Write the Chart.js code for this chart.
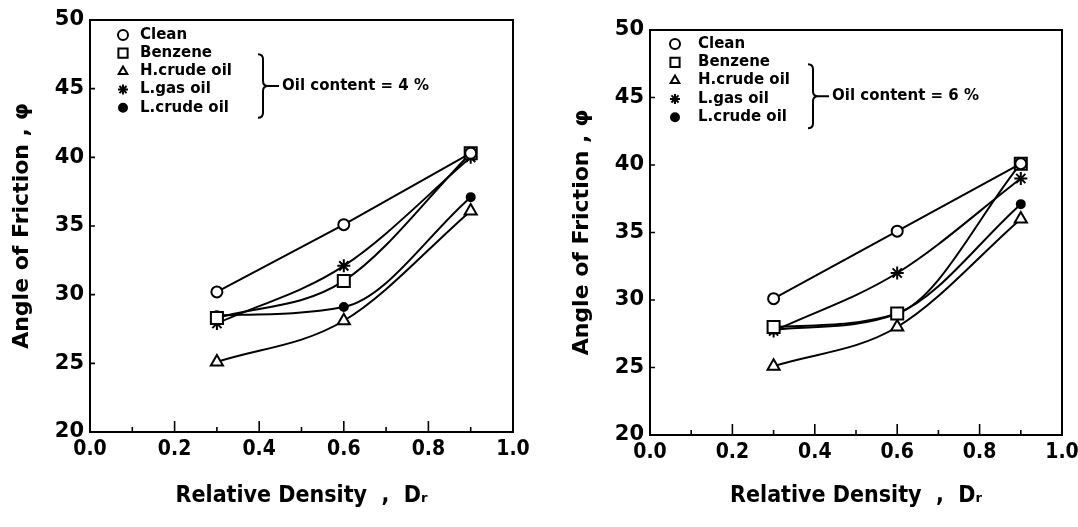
<!DOCTYPE html>
<html>
<head>
<meta charset="utf-8">
<script src="https://cdn.jsdelivr.net/npm/chart.js@4.4.1/dist/chart.umd.min.js"></script>
<style>
    html, body { margin: 0; padding: 0; background: #fff; }
    body { width: 1078px; height: 527px; position: relative; overflow: hidden; }
    canvas { position: absolute; top: 0; }
    #chart4 { left: 0; }
    #chart6 { left: 560px; }
</style>
</head>
<body>
<canvas id="chart4" width="539" height="527"></canvas>
<canvas id="chart6" width="518" height="527"></canvas>
<script>
// relative density values where the shear tests were run
const densities = [0.3, 0.6, 0.9];

const seriesNames = ['Clean', 'Benzene', 'H.crude oil', 'L.gas oil', 'L.crude oil'];

// angle of friction (deg), oil content = 4 %
const clean4 = [30.2, 35.1, 40.3];
const benzene4 = [28.3, 31.0, 40.3];
const hCrude4 = [25.1, 28.1, 36.1];
const lGas4 = [27.9, 32.1, 40.0];
const lCrude4 = [28.5, 29.1, 37.1];

// angle of friction (deg), oil content = 6 %
const clean6 = [30.1, 35.1, 40.1];
const benzene6 = [28.0, 29.0, 40.1];
const hCrude6 = [25.1, 28.0, 36.0];
const lGas6 = [27.7, 32.0, 39.0];
const lCrude6 = [27.8, 29.0, 37.1];

const xTicks = [0.0, 0.2, 0.4, 0.6, 0.8, 1.0];
const yTicks = [20, 25, 30, 35, 40, 45, 50];

const boldFont = "'DejaVu Sans', sans-serif";
const narrowFont = "'DejaVu Sans Condensed', 'Liberation Sans Narrow', sans-serif";

// marker look for each series, same order as seriesNames
const markers = [
    { pointStyle: 'circle', radius: 5.5, fill: '#fff', smooth: false },
    { pointStyle: 'rect', radius: 8.5, fill: '#fff', smooth: true },
    { pointStyle: 'triangle', radius: 7, fill: '#fff', smooth: true },
    { pointStyle: 'star', radius: 6.5, fill: '#000', smooth: true },
    { pointStyle: 'circle', radius: 4, fill: '#000', smooth: true }
];

function makeDatasets(seriesList) {
    return seriesList.map((values, i) => ({
        label: seriesNames[i],
        data: values.map((v, k) => ({ x: densities[k], y: v })),
        borderColor: '#000',
        borderWidth: 2,
        backgroundColor: markers[i].fill,
        pointStyle: markers[i].pointStyle,
        pointRadius: markers[i].radius,
        pointBorderWidth: 2,
        pointBackgroundColor: markers[i].fill,
        pointBorderColor: '#000',
        cubicInterpolationMode: markers[i].smooth ? 'monotone' : 'default',
        tension: 0,
        fill: false
    }));
}

// box round the plot, inward tick marks and the legend with its brace
const framePlugin = {
    id: 'framePlugin',
    beforeDatasetsDraw(chart) {
        const { ctx, chartArea: a, scales } = chart;
        ctx.save();
        ctx.strokeStyle = '#000';
        ctx.lineWidth = 2;
        ctx.strokeRect(a.left, a.top, a.right - a.left, a.bottom - a.top);

        ctx.lineWidth = 1.6;
        ctx.beginPath();
        // x ticks: major every 0.2, minor every 0.1
        for (let k = 1; k < 10; k++) {
            const px = scales.x.getPixelForValue(k / 10);
            const len = k % 2 === 0 ? 11 : 5;
            ctx.moveTo(px, a.bottom);
            ctx.lineTo(px, a.bottom - len);
        }
        // y ticks on the left side
        yTicks.slice(1, -1).forEach(v => {
            const py = scales.y.getPixelForValue(v);
            ctx.moveTo(a.left, py);
            ctx.lineTo(a.left + 5, py);
        });
        ctx.stroke();
        ctx.restore();
    },
    afterDraw(chart, args, opts) {
        const { ctx, chartArea: a } = chart;
        ctx.save();
        ctx.fillStyle = '#000';
        ctx.strokeStyle = '#000';
        ctx.font = "bold 15px " + boldFont;
        ctx.textBaseline = 'middle';
        const rowY = i => a.top + opts.firstRow + i * opts.rowGap;

        chart.data.datasets.forEach((ds, i) => {
            const y = rowY(i);
            ctx.lineWidth = 2;
            ctx.fillStyle = ds.pointBackgroundColor;
            Chart.helpers.drawPoint(ctx, {
                pointStyle: ds.pointStyle,
                radius: ds.pointStyle === 'rect' ? 6.5 : Math.min(ds.pointRadius, 5),
                rotation: 0,
                borderWidth: 2
            }, a.left + opts.markerX, y);
            ctx.fillStyle = '#000';
            ctx.fillText(ds.label, a.left + opts.textX, y);
        });

        // brace grouping the oily series
        const bx = a.left + opts.braceX;
        const y1 = rowY(1) + opts.braceTop;
        const y2 = rowY(4) + opts.braceBottom;
        const ym = (y1 + y2) / 2;
        ctx.lineWidth = 2;
        ctx.beginPath();
        ctx.moveTo(bx - 5, y1);
        ctx.quadraticCurveTo(bx, y1, bx, y1 + 5);
        ctx.lineTo(bx, ym - 5);
        ctx.quadraticCurveTo(bx, ym, bx + 5, ym);
        ctx.quadraticCurveTo(bx, ym, bx, ym + 5);
        ctx.lineTo(bx, y2 - 5);
        ctx.quadraticCurveTo(bx, y2, bx - 5, y2);
        ctx.moveTo(bx + 5, ym);
        ctx.lineTo(bx + 16, ym);
        ctx.stroke();
        ctx.fillText(opts.note, bx + 19, ym);
        ctx.restore();
    }
};

function buildChart(canvasId, seriesList, layout) {
    return new Chart(document.getElementById(canvasId), {
        type: 'line',
        data: { datasets: makeDatasets(seriesList) },
        options: {
            responsive: false,
            animation: false,
            layout: {
                padding: { top: layout.top, right: layout.right, left: 0, bottom: 0 }
            },
            plugins: {
                legend: { display: false },
                tooltip: { enabled: false },
                framePlugin: layout.legend
            },
            scales: {
                x: {
                    type: 'linear',
                    min: 0,
                    max: 1,
                    afterBuildTicks: scale => { scale.ticks = xTicks.map(v => ({ value: v })); },
                    afterFit: scale => {
                        scale.height = layout.xAxisHeight;
                        scale.paddingLeft = 0;
                        scale.paddingRight = 0;
                    },
                    grid: { display: false, drawTicks: false },
                    border: { display: false },
                    ticks: {
                        color: '#000',
                        padding: 5,
                        maxRotation: 0,
                        font: { family: narrowFont, size: 21, weight: 'bold' },
                        callback: v => v.toFixed(1)
                    },
                    title: {
                        display: true,
                        text: 'Relative Density  ,  Dᵣ',
                        color: '#000',
                        padding: { top: 0, bottom: 17 },
                        font: { family: narrowFont, size: 23, weight: 'bold' }
                    }
                },
                y: {
                    type: 'linear',
                    min: 20,
                    max: 50,
                    afterBuildTicks: scale => { scale.ticks = yTicks.map(v => ({ value: v })); },
                    afterFit: scale => { scale.width = layout.yAxisWidth; },
                    grid: { display: false, drawTicks: false },
                    border: { display: false },
                    ticks: {
                        color: '#000',
                        padding: 6,
                        font: { family: boldFont, size: 21, weight: 'bold' }
                    },
                    title: {
                        display: true,
                        text: 'Angle of Friction , φ',
                        color: '#000',
                        padding: { top: 9, bottom: 0 },
                        font: { family: boldFont, size: 22, weight: 'bold' }
                    }
                }
            }
        },
        plugins: [framePlugin]
    });
}

buildChart('chart4', [clean4, benzene4, hCrude4, lGas4, lCrude4], {
    top: 20, right: 26, yAxisWidth: 90, xAxisHeight: 95,
    legend: { markerX: 33, textX: 50, firstRow: 15, rowGap: 18.2, braceX: 173, braceTop: 1, braceBottom: 10, note: 'Oil content = 4 %' }
});

buildChart('chart6', [clean6, benzene6, hCrude6, lGas6, lCrude6], {
    top: 30, right: 16, yAxisWidth: 90, xAxisHeight: 92,
    legend: { markerX: 25, textX: 48, firstRow: 14, rowGap: 18.3, braceX: 163, braceTop: 2, braceBottom: 11, note: 'Oil content = 6 %' }
});
</script>
</body>
</html>
